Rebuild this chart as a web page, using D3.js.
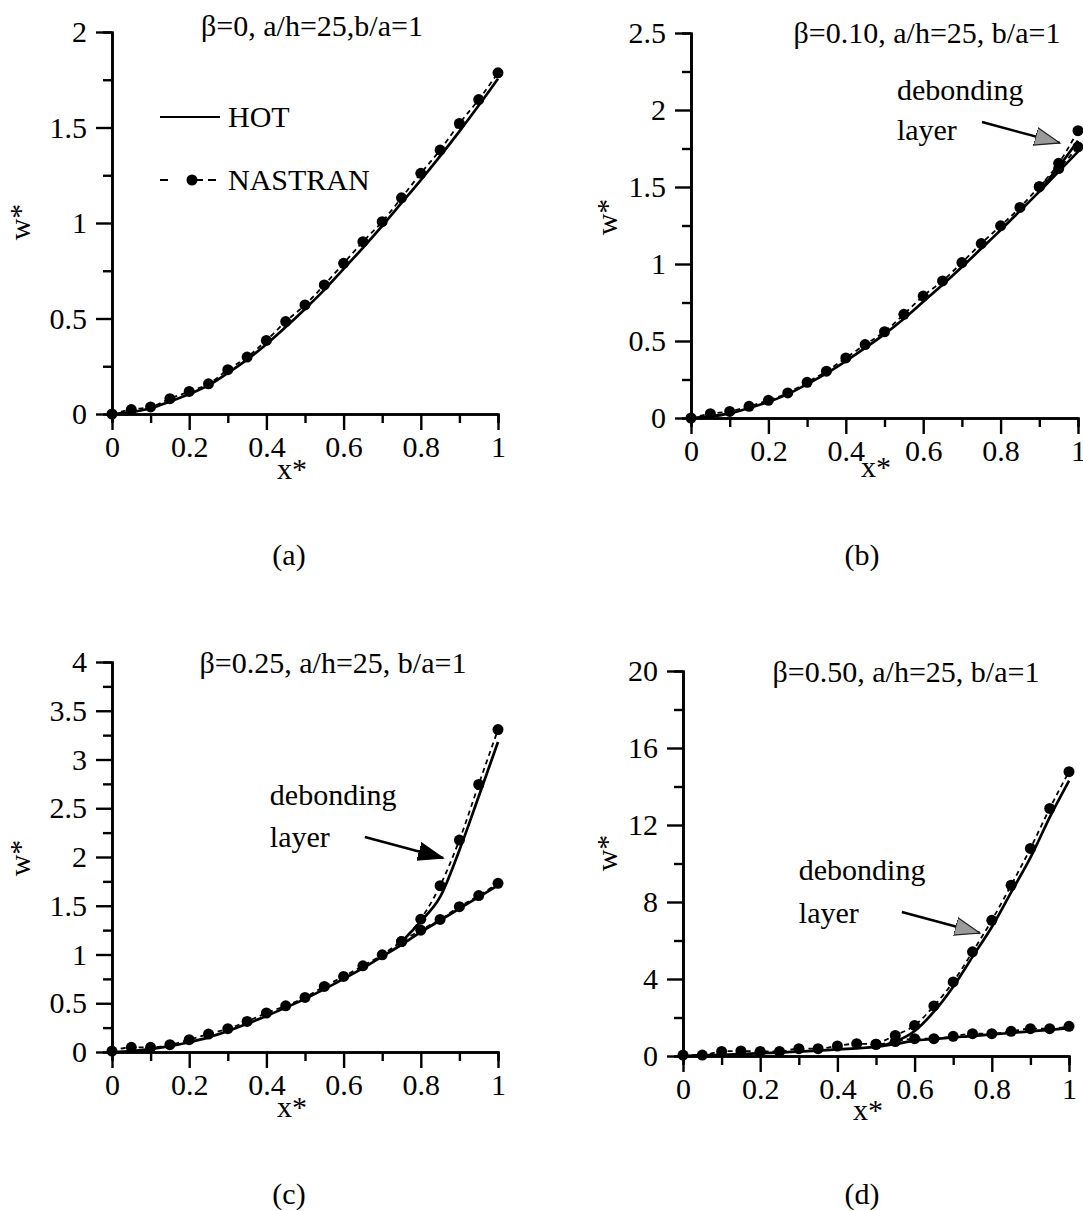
<!DOCTYPE html>
<html>
<head>
<meta charset="utf-8">
<script src="https://cdn.jsdelivr.net/npm/d3@7"></script>
<style>
  body { margin: 0; background: #fff; }
  text { font-family: "Liberation Serif", "Times New Roman", serif; fill: #000; }
</style>
</head>
<body>
<div id="chart"></div>
<script>
// x stations shared by every panel
const xStations = [0, 0.05, 0.1, 0.15, 0.2, 0.25, 0.3, 0.35, 0.4, 0.45, 0.5,
  0.55, 0.6, 0.65, 0.7, 0.75, 0.8, 0.85, 0.9, 0.95, 1]
const xTicks = [0, 0.2, 0.4, 0.6, 0.8, 1]
const xMinorTicks = [0.1, 0.3, 0.5, 0.7, 0.9]

// (a) beta = 0
const hotA = [0, 0.01, 0.03, 0.065, 0.105, 0.15, 0.215, 0.285, 0.365, 0.455, 0.55,
  0.65, 0.76, 0.87, 0.985, 1.105, 1.225, 1.35, 1.48, 1.615, 1.755]
const nastranA = [0, 0.023, 0.037, 0.08, 0.118, 0.158, 0.232, 0.298, 0.385, 0.484, 0.571,
  0.676, 0.789, 0.902, 1.007, 1.132, 1.26, 1.382, 1.521, 1.646, 1.786]
const yTicksA = [0, 0.5, 1, 1.5, 2]
const yMinorA = [0.25, 0.75, 1.25, 1.75]

// (b) beta = 0.10
const hotB = [0, 0.01, 0.03, 0.065, 0.105, 0.155, 0.22, 0.29, 0.37, 0.455, 0.545,
  0.645, 0.755, 0.865, 0.98, 1.1, 1.22, 1.345, 1.47, 1.6, 1.73]
const nastranB = [0, 0.028, 0.043, 0.076, 0.115, 0.163, 0.232, 0.304, 0.39, 0.477, 0.56,
  0.673, 0.792, 0.89, 1.009, 1.133, 1.248, 1.367, 1.502, 1.62, 1.76]
const xDebondB = [0.9, 0.95, 1]
const hotDebondB = [1.47, 1.63, 1.8]
const nastranDebondB = [1.502, 1.654, 1.866]
const yTicksB = [0, 0.5, 1, 1.5, 2, 2.5]
const yMinorB = [0.25, 0.75, 1.25, 1.75, 2.25]

// (c) beta = 0.25
const hotC = [0, 0.01, 0.03, 0.06, 0.1, 0.15, 0.215, 0.29, 0.37, 0.455, 0.545,
  0.645, 0.75, 0.86, 0.98, 1.1, 1.23, 1.35, 1.47, 1.59, 1.71]
const nastranC = [0.01, 0.048, 0.048, 0.075, 0.126, 0.184, 0.239, 0.314, 0.4, 0.474, 0.56,
  0.672, 0.775, 0.884, 0.997, 1.133, 1.25, 1.36, 1.49, 1.604, 1.73]
const xDebondC = [0.75, 0.8, 0.85, 0.9, 0.95, 1]
const hotDebondC = [1.13, 1.34, 1.59, 2.07, 2.62, 3.18]
const nastranDebondC = [1.133, 1.362, 1.706, 2.174, 2.744, 3.307]
const yTicksC = [0, 0.5, 1, 1.5, 2, 2.5, 3, 3.5, 4]
const yMinorC = [0.25, 0.75, 1.25, 1.75, 2.25, 2.75, 3.25, 3.75]

// (d) beta = 0.50
const hotD = [0, 0.03, 0.06, 0.1, 0.14, 0.18, 0.23, 0.28, 0.34, 0.4, 0.47,
  0.62, 0.8, 0.88, 0.96, 1.05, 1.12, 1.2, 1.28, 1.36, 1.45]
const nastranD = [0.05, 0.05, 0.24, 0.26, 0.24, 0.24, 0.38, 0.38, 0.52, 0.64, 0.61,
  0.75, 0.9, 0.9, 1.02, 1.16, 1.16, 1.28, 1.42, 1.42, 1.54]
const xDebondD = [0.5, 0.55, 0.6, 0.65, 0.7, 0.75, 0.8, 0.85, 0.9, 0.95, 1]
const hotDebondD = [0.47, 0.75, 1.3, 2.3, 3.6, 5.15, 6.7, 8.5, 10.3, 12.4, 14.3]
const nastranDebondD = [0.61, 1.07, 1.59, 2.6, 3.85, 5.41, 7.05, 8.87, 10.78, 12.86, 14.77]
const yTicksD = [0, 4, 8, 12, 16, 20]
const yMinorD = [2, 6, 10, 14, 18]

const titles = ['β=0, a/h=25,b/a=1', 'β=0.10, a/h=25, b/a=1',
  'β=0.25, a/h=25, b/a=1', 'β=0.50, a/h=25, b/a=1']
const captions = ['(a)', '(b)', '(c)', '(d)']
const legendLabels = ['HOT', 'NASTRAN']
const noteLines = ['debonding', 'layer']

const W = 1083
const H = 1211
const FONT = 30

const svg = d3.select('#chart').append('svg')
  .attr('width', W)
  .attr('height', H)
svg.append('rect').attr('width', W).attr('height', H).attr('fill', '#fff')

// arrow heads
const defs = svg.append('defs')
const heads = [['head-black', '#000', '#000'], ['head-grey', '#9a9a9a', '#222']]
heads.forEach(([id, fill, stroke]) => {
  defs.append('marker')
    .attr('id', id)
    .attr('markerUnits', 'userSpaceOnUse')
    .attr('markerWidth', 28).attr('markerHeight', 22)
    .attr('refX', 25).attr('refY', 10)
    .attr('orient', 'auto')
    .append('path')
    .attr('d', 'M0,1 L25,10 L0,19 Z')
    .attr('fill', fill)
    .attr('stroke', stroke)
    .attr('stroke-width', 1.2)
})

const zip = (xs, ys) => xs.map((x, i) => ({x: x, y: ys[i]}))

const panels = [
  {
    box: {left: 112, right: 498, top: 32, bottom: 414}, yMax: 2,
    yTicks: yTicksA, yMinor: yMinorA,
    curves: [{hot: zip(xStations, hotA), nas: zip(xStations, nastranA)}],
    title: {x: 312, y: 36}, wLabel: {x: 30, y: 222},
    xLabel: {x: 292, y: 479}, caption: {x: 289, y: 565},
    legend: {x: 160, y: 117},
    note: null
  },
  {
    box: {left: 691, right: 1078, top: 33, bottom: 418}, yMax: 2.5,
    yTicks: yTicksB, yMinor: yMinorB,
    curves: [
      {hot: zip(xStations, hotB), nas: zip(xStations, nastranB)},
      {hot: zip(xDebondB, hotDebondB), nas: zip(xDebondB, nastranDebondB)}
    ],
    title: {x: 927, y: 43}, wLabel: {x: 617, y: 217},
    xLabel: {x: 876, y: 477}, caption: {x: 862, y: 565},
    note: {x: 0.532, y1: 2.065, y2: 1.805, from: [0.752, 1.922], to: [0.953, 1.786], head: 'head-grey'}
  },
  {
    box: {left: 112, right: 498, top: 662, bottom: 1052}, yMax: 4,
    yTicks: yTicksC, yMinor: yMinorC,
    curves: [
      {hot: zip(xStations, hotC), nas: zip(xStations, nastranC)},
      {hot: zip(xDebondC, hotDebondC), nas: zip(xDebondC, nastranDebondC)}
    ],
    title: {x: 333, y: 673}, wLabel: {x: 30, y: 858},
    xLabel: {x: 292, y: 1117}, caption: {x: 289, y: 1204},
    note: {x: 0.409, y1: 2.53, y2: 2.1, from: [0.655, 2.205], to: [0.858, 1.99], head: 'head-black'}
  },
  {
    box: {left: 683, right: 1069, top: 671, bottom: 1056}, yMax: 20,
    yTicks: yTicksD, yMinor: yMinorD,
    curves: [
      {hot: zip(xStations, hotD), nas: zip(xStations, nastranD)},
      {hot: zip(xDebondD, hotDebondD), nas: zip(xDebondD, nastranDebondD)}
    ],
    title: {x: 906, y: 682}, wLabel: {x: 617, y: 853},
    xLabel: {x: 868, y: 1120}, caption: {x: 862, y: 1204},
    note: {x: 0.3, y1: 9.14, y2: 6.9, from: [0.567, 7.48], to: [0.769, 6.39], head: 'head-grey'}
  }
]

const fmt = (d) => String(+d.toFixed(2))

function styleAxis (g) {
  g.select('.domain').attr('stroke', '#000').attr('stroke-width', 2.6)
  g.selectAll('.tick line').attr('stroke', '#000').attr('stroke-width', 2.4)
  g.selectAll('.tick text')
    .style('font-family', '"Liberation Serif", "Times New Roman", serif')
    .style('font-size', FONT + 'px')
    .attr('fill', '#000')
}

function drawPanel (p, i) {
  const g = svg.append('g')
  const xs = d3.scaleLinear().domain([0, 1]).range([p.box.left, p.box.right])
  const ys = d3.scaleLinear().domain([0, p.yMax]).range([p.box.bottom, p.box.top])

  // minor ticks first, major axes on top
  g.append('g')
    .attr('transform', `translate(0,${p.box.bottom})`)
    .call(d3.axisBottom(xs).tickValues(xMinorTicks).tickSize(9).tickFormat(''))
    .call(styleAxis)
  g.append('g')
    .attr('transform', `translate(${p.box.left},0)`)
    .call(d3.axisLeft(ys).tickValues(p.yMinor).tickSize(9).tickFormat(''))
    .call(styleAxis)

  g.append('g')
    .attr('transform', `translate(0,${p.box.bottom})`)
    .call(d3.axisBottom(xs).tickValues(xTicks).tickSize(16).tickSizeOuter(0)
      .tickPadding(6).tickFormat(fmt))
    .call(styleAxis)
  g.append('g')
    .attr('transform', `translate(${p.box.left},0)`)
    .call(d3.axisLeft(ys).tickValues(p.yTicks).tickSize(16).tickSizeOuter(0)
      .tickPadding(9).tickFormat(fmt))
    .call(styleAxis)

  const line = d3.line()
    .x((d) => xs(d.x))
    .y((d) => ys(d.y))
    .curve(d3.curveMonotoneX)

  p.curves.forEach((c) => {
    g.append('path')
      .attr('d', line(c.nas))
      .attr('fill', 'none')
      .attr('stroke', '#000')
      .attr('stroke-width', 1.8)
      .attr('stroke-dasharray', '5,4')
    g.append('path')
      .attr('d', line(c.hot))
      .attr('fill', 'none')
      .attr('stroke', '#000')
      .attr('stroke-width', 2.7)
    g.selectAll(null)
      .data(c.nas)
      .enter()
      .append('circle')
      .attr('cx', (d) => xs(d.x))
      .attr('cy', (d) => ys(d.y))
      .attr('r', 5.5)
      .attr('fill', '#000')
  })

  // texts
  g.append('text')
    .attr('x', p.title.x).attr('y', p.title.y)
    .attr('text-anchor', 'middle')
    .style('font-size', FONT + 'px')
    .text(titles[i])
  g.append('text')
    .attr('transform', `translate(${p.wLabel.x},${p.wLabel.y}) rotate(-90)`)
    .attr('text-anchor', 'middle')
    .style('font-size', FONT + 'px')
    .text('w*')
  g.append('text')
    .attr('x', p.xLabel.x).attr('y', p.xLabel.y)
    .attr('text-anchor', 'middle')
    .style('font-size', FONT + 'px')
    .text('x*')
  g.append('text')
    .attr('x', p.caption.x).attr('y', p.caption.y)
    .attr('text-anchor', 'middle')
    .style('font-size', FONT + 'px')
    .text(captions[i])

  if (p.legend) {
    const lg = g.append('g').attr('transform', `translate(${p.legend.x},${p.legend.y})`)
    lg.append('line')
      .attr('x1', 0).attr('x2', 60).attr('y1', 0).attr('y2', 0)
      .attr('stroke', '#000').attr('stroke-width', 2)
    lg.append('line')
      .attr('x1', 0).attr('x2', 60).attr('y1', 63).attr('y2', 63)
      .attr('stroke', '#000').attr('stroke-width', 2)
      .attr('stroke-dasharray', '8,5,0,22,8,5')
    lg.append('circle')
      .attr('cx', 32).attr('cy', 63).attr('r', 5.5).attr('fill', '#000')
    legendLabels.forEach((t, k) => {
      lg.append('text')
        .attr('x', 68).attr('y', k * 63 + 10)
        .style('font-size', FONT + 'px')
        .text(t)
    })
  }

  if (p.note) {
    const n = p.note
    g.append('text')
      .attr('x', xs(n.x)).attr('y', ys(n.y1))
      .style('font-size', FONT + 'px')
      .text(noteLines[0])
    g.append('text')
      .attr('x', xs(n.x)).attr('y', ys(n.y2))
      .style('font-size', FONT + 'px')
      .text(noteLines[1])
    g.append('line')
      .attr('x1', xs(n.from[0])).attr('y1', ys(n.from[1]))
      .attr('x2', xs(n.to[0])).attr('y2', ys(n.to[1]))
      .attr('stroke', '#000')
      .attr('stroke-width', 2.4)
      .attr('marker-end', `url(#${n.head})`)
  }
}

panels.forEach(drawPanel)
</script>
</body>
</html>
